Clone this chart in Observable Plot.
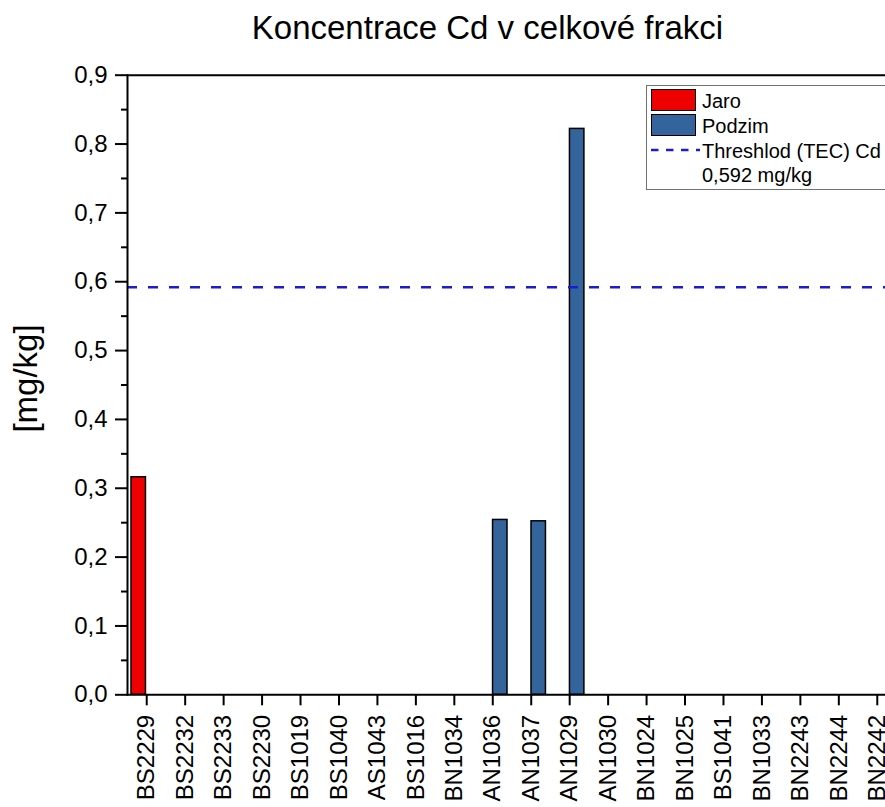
<!DOCTYPE html>
<html><head><meta charset="utf-8">
<script src="https://cdn.jsdelivr.net/npm/d3@7"></script>
<script src="https://cdn.jsdelivr.net/npm/@observablehq/plot@0.6"></script>
<style>
body{margin:0;background:#fff;}
#wrap{position:relative;width:885px;height:807px;overflow:hidden;font-family:"Liberation Sans",Arial,sans-serif;color:#000;}
#title{position:absolute;left:0;top:11px;width:975px;text-align:center;font-size:33px;line-height:33px;white-space:nowrap;}
#chart{position:absolute;left:0;top:60px;}
#legend{position:absolute;left:646px;top:85px;width:320px;height:103px;border:1px solid #707070;background:#fff;}
.lt{position:absolute;left:55px;font-size:20px;line-height:20px;white-space:nowrap;}
.sw{position:absolute;left:4px;width:43px;height:20px;border:1.5px solid #000;box-sizing:content-box;}
</style></head><body>
<div id="wrap">
  <div id="title">Koncentrace Cd v celkové frakci</div>
  <div id="chart"></div>
  <div id="legend">
    <div class="sw" id="swJaro" style="top:3px;"></div>
    <div class="lt" style="top:4.8px;">Jaro</div>
    <div class="sw" id="swPodzim" style="top:28px;"></div>
    <div class="lt" style="top:29.8px;">Podzim</div>
    <svg style="position:absolute;left:3px;top:60px;" width="50" height="8"><line x1="1" x2="50" y1="4" y2="4" stroke="#1c1ccf" stroke-width="2.5" stroke-dasharray="7.5,7.5"/></svg>
    <div class="lt" style="top:54.8px;">Threshlod (TEC) Cd</div>
    <div class="lt" style="top:78.8px;">0,592 mg/kg</div>
  </div>
</div>
<script>
const samples = ["BS2229","BS2232","BS2233","BS2230","BS1019","BS1040","AS1043","BS1016","BN1034","AN1036","AN1037","AN1029","AN1030","BN1024","BN1025","BS1041","BN1033","BN2243","BN2244","BN2242"];
const jaroSamples = ["BS2229"];
const jaroValues = [0.316];
const podzimSamples = ["AN1036","AN1037","AN1029"];
const podzimValues = [0.254, 0.252, 0.822];
const threshold = 0.592;
const yTicks = [0, 0.1, 0.2, 0.3, 0.4, 0.5, 0.6, 0.7, 0.8, 0.9];
const yMinorTicks = [0.05, 0.15, 0.25, 0.35, 0.45, 0.55, 0.65, 0.75, 0.85];
const colorJaro = "#ee0000";
const colorPodzim = "#33659c";

document.getElementById("swJaro").style.background = colorJaro;
document.getElementById("swPodzim").style.background = colorPodzim;

const jaro = jaroSamples.map((s, i) => ({sample: s, value: jaroValues[i]}));
const podzim = podzimSamples.map((s, i) => ({sample: s, value: podzimValues[i]}));
const fmt = d => d.toFixed(1).replace(".", ",");

const chart = Plot.plot({
  width: 885,
  height: 747,
  marginLeft: 127,
  marginRight: 0,
  marginTop: 14.7,
  marginBottom: 112.7,
  style: {fontFamily: "'Liberation Sans', Arial, sans-serif", fontSize: "24px", color: "#000", background: "transparent", overflow: "visible"},
  x: {type: "band", domain: samples, range: [127, 896], padding: 0, round: false},
  y: {domain: [0, 0.9]},
  marks: [
    Plot.barY(jaro, {x: "sample", y: "value", fill: colorJaro, stroke: "#000", strokeWidth: 1.5, insetLeft: 4, insetRight: 20}),
    Plot.barY(podzim, {x: "sample", y: "value", fill: colorPodzim, stroke: "#000", strokeWidth: 1.5, insetLeft: 19.5, insetRight: 4.5}),
    Plot.ruleY([threshold], {stroke: "#1c1ccf", strokeWidth: 2.5, strokeDasharray: "10,11"}),
    Plot.ruleY([0.9], {stroke: "#000", strokeWidth: 2}),
    Plot.ruleY([0], {stroke: "#000", strokeWidth: 2}),
    Plot.frame({anchor: "left", stroke: "#000", strokeWidth: 2}),
    Plot.axisY({ticks: yTicks, tickFormat: fmt, tickSize: 12, tickPadding: 8, strokeWidth: 2, label: null, fontSize: 24}),
    Plot.axisY({ticks: yMinorTicks, tickFormat: () => "", tickSize: 6, strokeWidth: 2, label: null}),
    Plot.axisX({tickRotate: -90, tickSize: 11, tickPadding: 9, strokeWidth: 2, label: null, fontSize: 24}),
    Plot.text(["[mg/kg]"], {frameAnchor: "left", rotate: -90, dx: -101, dy: -6.5, fontSize: 33, textAnchor: "middle", lineAnchor: "middle"})
  ]
});
document.getElementById("chart").appendChild(chart);
</script>
</body></html>
